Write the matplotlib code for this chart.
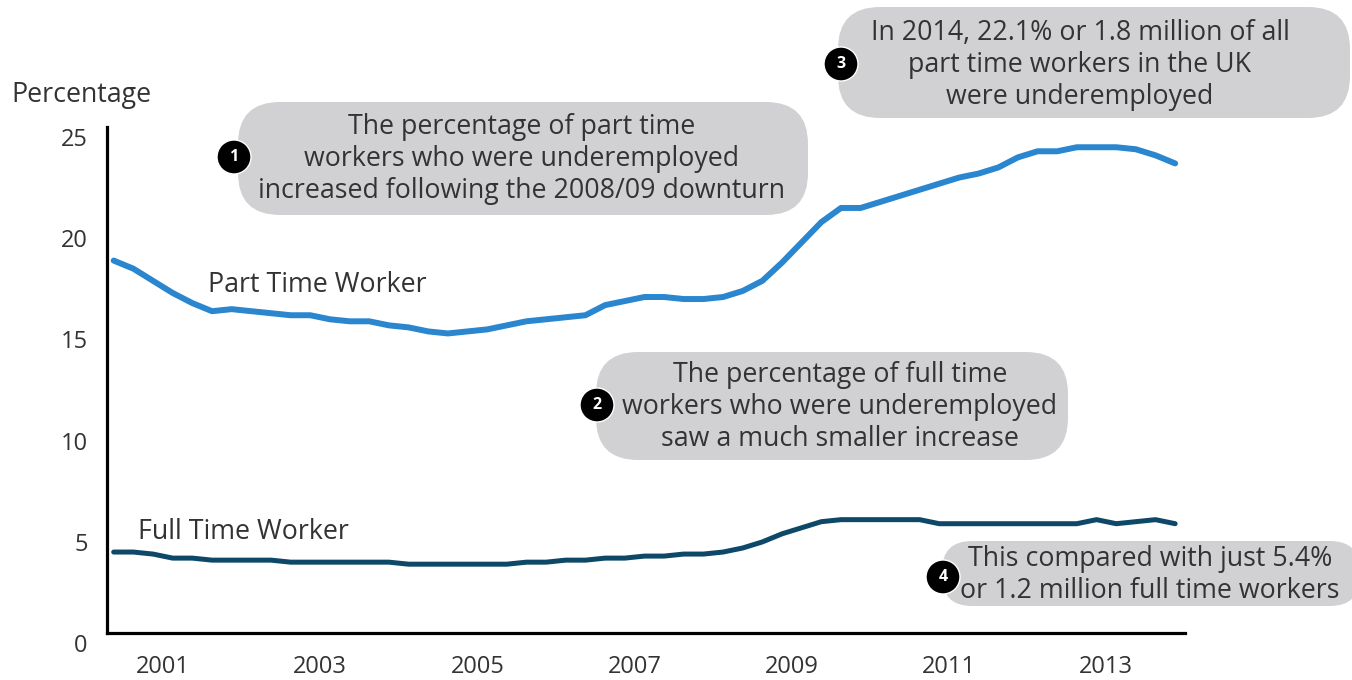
import matplotlib
matplotlib.use("Agg")
import matplotlib.pyplot as plt
import numpy as np
import pandas as pd
from matplotlib.patches import FancyBboxPatch, Circle
from matplotlib.transforms import ScaledTranslation

plt.rcParams['font.family'] = ['Open Sans', 'DejaVu Sans']

# Underemployment rate (%), quarterly, 2000 Q2 to 2013 Q4
quarters = pd.period_range('2000Q2', '2013Q4', freq='Q')
part_time = [18.4, 18.0, 17.4, 16.8, 16.3, 15.9, 16.0, 15.9, 15.8, 15.7,
             15.7, 15.5, 15.4, 15.4, 15.2, 15.1, 14.9, 14.8, 14.9, 15.0,
             15.2, 15.4, 15.5, 15.6, 15.7, 16.2, 16.4, 16.6, 16.6, 16.5,
             16.5, 16.6, 16.9, 17.4, 18.3, 19.3, 20.3, 21.0, 21.0, 21.3,
             21.6, 21.9, 22.2, 22.5, 22.7, 23.0, 23.5, 23.8, 23.8, 24.0,
             24.0, 24.0, 23.9, 23.6, 23.2]
full_time = [4.0, 4.0, 3.9, 3.7, 3.7, 3.6, 3.6, 3.6, 3.6, 3.5,
             3.5, 3.5, 3.5, 3.5, 3.5, 3.4, 3.4, 3.4, 3.4, 3.4,
             3.4, 3.5, 3.5, 3.6, 3.6, 3.7, 3.7, 3.8, 3.8, 3.9,
             3.9, 4.0, 4.2, 4.5, 4.9, 5.2, 5.5, 5.6, 5.6, 5.6,
             5.6, 5.6, 5.4, 5.4, 5.4, 5.4, 5.4, 5.4, 5.4, 5.4,
             5.6, 5.4, 5.5, 5.6, 5.4]
tick_years = [2001, 2003, 2005, 2007, 2009, 2011, 2013]
y_ticks = [0, 5, 10, 15, 20, 25]

notes = [
    ("1", "The percentage of part time\nworkers who were underemployed\nincreased following the 2008/09 downturn"),
    ("2", "The percentage of full time\nworkers who were underemployed\nsaw a much smaller increase"),
    ("3", "In 2014, 22.1% or 1.8 million of all\npart time workers in the UK\nwere underemployed"),
    ("4", "This compared with just 5.4%\nor 1.2 million full time workers"),
]

# mid-quarter decimal years
x = np.array([q.year + (q.quarter - 1) / 4 + 0.125 for q in quarters])

W, H, DPI = 1352, 680, 100
TEXT = '#333333'
BOX = '#d1d1d3'
FS_TICK = 17
FS = 19.3

fig = plt.figure(figsize=(W / DPI, H / DPI), dpi=DPI)
ax = fig.add_axes([107 / W, 47 / H, (1185 - 107) / W, (633 - 127) / H])

ax.plot(x, part_time, color='#2a86cf', lw=4.3, solid_capstyle='round', solid_joinstyle='round')
ax.plot(x, full_time, color='#0d4868', lw=3.6, solid_capstyle='round', solid_joinstyle='round')

ax.set_xlim(2000.29, 2014.0)
ax.set_ylim(0, 25)
ax.set_xticks(tick_years)
ax.set_xticklabels([str(t) for t in tick_years])
ax.set_yticks(y_ticks)
ax.tick_params(axis='both', length=0, labelsize=FS_TICK, colors=TEXT)
ax.tick_params(axis='y', pad=14)
ax.tick_params(axis='x', pad=16)
for side in ('top', 'right'):
    ax.spines[side].set_visible(False)
for side in ('left', 'bottom'):
    ax.spines[side].set_linewidth(2.3)
    ax.spines[side].set_color('black')
    ax.spines[side].set_capstyle('projecting')

shift = ScaledTranslation(0, -10 / DPI, fig.dpi_scale_trans)
for lbl in ax.get_yticklabels():
    lbl.set_transform(lbl.get_transform() + shift)

ax.text(2001.57, 17.2, "Part Time Worker", fontsize=FS, color=TEXT, va='center', ha='left')
ax.text(2000.68, 5.0, "Full Time Worker", fontsize=FS, color=TEXT, va='center', ha='left')

tr = fig.dpi_scale_trans


def to_in(px, py):
    return px / DPI, (H - py) / DPI


fig.text(*to_in(11, 95), "Percentage", fontsize=FS, color=TEXT, ha='left', va='center', transform=tr)

# (box left, top, right, bottom, rounding), text centre, badge centre
layout = [
    ((238, 102, 808, 215, 0.42), (522, 159), (234, 157)),
    ((596, 352, 1068, 460, 0.42), (840, 407), (597, 405)),
    ((838, 7, 1350, 118, 0.42), (1080, 65), (841, 64)),
    ((942, 541, 1360, 606, 0.30), (1150, 575), (943, 577)),
]

for (num, msg), ((l, t, r, b, rs), (tx, ty), (cx, cy)) in zip(notes, layout):
    x0, y0 = to_in(l, b)
    box = FancyBboxPatch((x0, y0), (r - l) / DPI, (b - t) / DPI,
                         boxstyle=f"round,pad=0,rounding_size={rs}",
                         transform=tr, fc=BOX, ec='none', zorder=1)
    fig.add_artist(box)
    fig.text(*to_in(tx, ty), msg, fontsize=FS, color=TEXT, ha='center', va='center',
             linespacing=1.2, transform=tr, zorder=2)
    badge = Circle(to_in(cx, cy), 0.17, transform=tr, fc='black', ec='white', lw=1.0, zorder=3)
    fig.add_artist(badge)
    fig.text(*to_in(cx, cy), num, fontsize=11.5, color='white', fontweight='bold',
             ha='center', va='center', transform=tr, zorder=4)

fig.savefig('out.png', dpi=DPI)
